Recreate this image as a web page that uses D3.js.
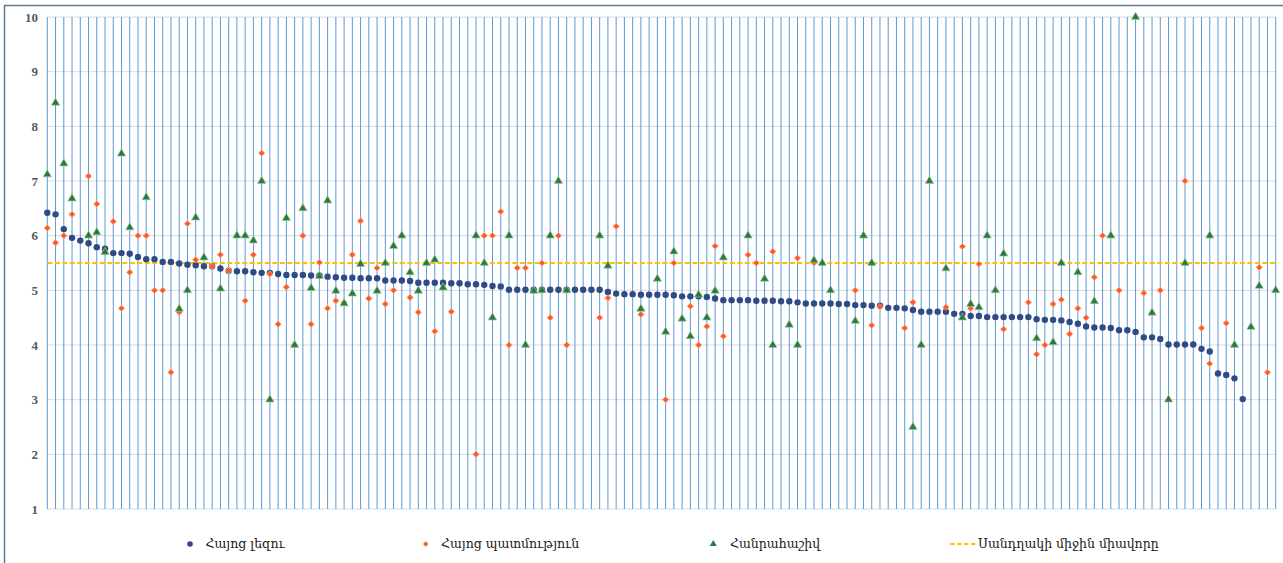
<!DOCTYPE html>
<html>
<head>
<meta charset="utf-8">
<script src="https://cdn.jsdelivr.net/npm/d3@7"></script>
<style>
  html, body { margin: 0; padding: 0; background: #fff; }
  svg { display: block; }
</style>
</head>
<body>
<svg id="chart" width="1283" height="563"></svg>
<script>
// ---- DATA ----
const categories = d3.range(1, 151);

const armenianLanguage = [
  6.42, 6.39, 6.12, 5.96, 5.91, 5.86, 5.79, 5.76, 5.68, 5.68,
  5.67, 5.61, 5.57, 5.57, 5.52, 5.52, 5.49, 5.47, 5.46, 5.44,
  5.44, 5.40, 5.36, 5.35, 5.35, 5.33, 5.32, 5.32, 5.30, 5.28,
  5.28, 5.28, 5.27, 5.27, 5.25, 5.24, 5.23, 5.23, 5.22, 5.22,
  5.22, 5.18, 5.18, 5.18, 5.17, 5.14, 5.14, 5.14, 5.14, 5.13,
  5.13, 5.11, 5.11, 5.10, 5.08, 5.07, 5.01, 5.01, 5.01, 5.01,
  5.01, 5.01, 5.01, 5.01, 5.01, 5.01, 5.01, 5.01, 4.97, 4.94,
  4.93, 4.93, 4.92, 4.92, 4.92, 4.92, 4.91, 4.89, 4.89, 4.89,
  4.88, 4.85, 4.82, 4.82, 4.82, 4.82, 4.81, 4.81, 4.81, 4.80,
  4.80, 4.78, 4.76, 4.76, 4.76, 4.76, 4.75, 4.75, 4.73, 4.73,
  4.72, 4.72, 4.68, 4.68, 4.67, 4.64, 4.61, 4.61, 4.61, 4.61,
  4.57, 4.57, 4.53, 4.53, 4.51, 4.51, 4.51, 4.51, 4.51, 4.51,
  4.47, 4.46, 4.46, 4.45, 4.42, 4.39, 4.34, 4.32, 4.32, 4.31,
  4.27, 4.27, 4.24, 4.14, 4.14, 4.11, 4.01, 4.01, 4.01, 4.01,
  3.93, 3.88, 3.48, 3.45, 3.39, 3.01, null, null, null, null
];

const armenianHistory = [
  6.14, 5.87, 6.00, 6.39, null, 7.09, 6.58, 5.70, 6.26, 4.67,
  5.33, 6.00, 6.00, 5.00, 5.00, 3.50, 4.60, 6.22, 5.56, null,
  5.44, 5.65, 5.36, null, 4.81, 5.65, 7.51, 5.30, 4.38, 5.06,
  4.00, 6.00, 4.38, 5.51, 4.67, 4.81, 4.78, 5.65, 6.27, 4.85,
  5.41, 4.75, 5.00, 6.00, 4.87, 4.60, null, 4.25, null, 4.61,
  null, null, 2.00, 6.00, 6.00, 6.44, 4.00, 5.41, 5.41, null,
  5.50, 4.50, 6.00, 4.00, null, null, null, 4.50, 4.86, 6.17,
  null, null, 4.56, null, null, 3.00, 5.50, null, 4.71, 4.00,
  4.34, 5.81, 4.16, null, null, 5.65, 5.50, null, 5.71, null,
  null, 5.59, null, 5.50, null, null, null, null, 5.00, null,
  4.36, 4.70, null, null, 4.31, 4.78, null, null, null, 4.69,
  null, 5.80, 4.67, 5.48, null, null, 4.29, null, null, 4.78,
  3.83, 4.00, 4.75, 4.83, 4.20, 4.67, 4.50, 5.24, 6.00, null,
  5.00, null, null, 4.95, null, 5.00, null, null, 7.00, null,
  4.31, 3.66, null, 4.40, null, null, null, 5.42, 3.50, null
];

const algebra = [
  7.12, 8.43, 7.32, 6.68, null, 6.00, 6.06, 5.70, null, 7.50,
  6.15, null, 6.70, null, null, null, 4.66, 5.00, 6.33, 5.60,
  null, 5.03, null, 6.00, 6.00, 5.91, 7.00, 3.00, null, 6.32,
  4.00, 6.50, 5.04, 5.26, 6.64, 4.99, 4.76, 4.94, 5.48, null,
  4.99, 5.50, 5.81, 6.00, 5.33, 4.99, 5.50, 5.56, 5.05, null,
  null, null, 6.00, 5.50, 4.50, null, 6.00, null, 4.00, 4.99,
  5.00, 6.00, 7.00, 5.00, null, null, null, 6.00, 5.45, null,
  null, null, 4.66, null, 5.21, 4.24, 5.71, 4.48, 4.16, 4.92,
  4.50, 4.99, 5.60, null, null, 6.00, null, 5.21, 4.00, null,
  4.37, 4.00, null, 5.55, 5.50, 5.00, null, null, 4.44, 6.00,
  5.50, null, null, null, null, 2.50, 4.00, 7.00, null, 5.40,
  null, 4.50, 4.75, 4.69, 6.00, 5.00, 5.67, null, null, null,
  4.12, null, 4.05, 5.50, null, 5.33, null, 4.80, null, 6.00,
  null, null, 10.00, null, 4.59, null, 3.00, null, 5.50, null,
  null, 6.00, null, null, 4.00, null, 4.33, 5.08, null, 5.00
];

const scaleAverage = 5.5;
const yTicks = [1, 2, 3, 4, 5, 6, 7, 8, 9, 10];

const seriesNames = ["Հայոց լեզու", "Հայոց պատմություն", "Հանրահաշիվ", "Սանդղակի միջին միավորը"];

// ---- DRAW ----
const svg = d3.select("#chart");
const W = 1283, H = 563;

const x = d3.scalePoint().domain(categories).range([47.3, 1275.7]);
const y = d3.scaleLinear().domain([1, 10]).range([509, 17]);

// outer frame (top and left)
svg.append("line").attr("x1", 4).attr("x2", W).attr("y1", 5.5).attr("y2", 5.5)
  .attr("stroke", "#5d7a92").attr("stroke-width", 1.5);
svg.append("line").attr("x1", 4.5).attr("x2", 4.5).attr("y1", 5).attr("y2", H)
  .attr("stroke", "#5d7a92").attr("stroke-width", 1.5);

// horizontal gridlines
svg.append("g").selectAll("line").data(yTicks).join("line")
  .attr("x1", x.range()[0]).attr("x2", x.range()[1])
  .attr("y1", d => y(d)).attr("y2", d => y(d))
  .attr("stroke", "#d9d9d9").attr("stroke-width", 1);

// vertical lines at each category
svg.append("g").selectAll("line").data(categories).join("line")
  .attr("x1", d => x(d)).attr("x2", d => x(d))
  .attr("y1", y(10)).attr("y2", y(1))
  .attr("stroke", "#5b9bd5").attr("stroke-width", 1);

// y axis labels
const yAxis = d3.axisLeft(y).tickValues(yTicks).tickSize(0).tickPadding(0);
const gy = svg.append("g").attr("transform", "translate(38,0)").call(yAxis);
gy.select(".domain").remove();
gy.selectAll("text")
  .attr("font-family", "'Liberation Serif', 'DejaVu Serif', serif")
  .attr("font-size", 13)
  .attr("font-weight", "bold")
  .attr("fill", "#595959");

// average line
svg.append("line")
  .attr("x1", x.range()[0]).attr("x2", x.range()[1])
  .attr("y1", y(scaleAverage)).attr("y2", y(scaleAverage))
  .attr("stroke", "#ffc000").attr("stroke-width", 1.8)
  .attr("stroke-dasharray", "5,2.5");

const idx = categories.map((c, i) => i);

// blue circles
svg.append("g").selectAll("circle")
  .data(idx.filter(i => armenianLanguage[i] != null))
  .join("circle")
  .attr("cx", i => x(categories[i]))
  .attr("cy", i => y(armenianLanguage[i]))
  .attr("r", 3.2)
  .attr("fill", "#2f4b85");

// orange diamonds
const diamond = d3.symbol().type(d3.symbolDiamond2).size(26);
svg.append("g").selectAll("path")
  .data(idx.filter(i => armenianHistory[i] != null))
  .join("path")
  .attr("d", diamond)
  .attr("transform", i => `translate(${x(categories[i])},${y(armenianHistory[i])})`)
  .attr("fill", "#fb5b28")
  .attr("stroke", "#ffb08a").attr("stroke-width", 0.8);

// green triangles
const tri = d3.symbol().type(d3.symbolTriangle).size(30);
svg.append("g").selectAll("path")
  .data(idx.filter(i => algebra[i] != null))
  .join("path")
  .attr("d", tri)
  .attr("transform", i => `translate(${x(categories[i])},${y(algebra[i])})`)
  .attr("fill", "#2a7a3a")
  .attr("stroke", "#9cc8a4").attr("stroke-width", 0.7);

// legend
const legY = 544;
const leg = svg.append("g")
  .attr("font-family", "'DejaVu Serif', serif")
  .attr("font-size", 12.5)
  .attr("fill", "#1a1a1a");

leg.append("circle").attr("cx", 190).attr("cy", legY).attr("r", 2.8).attr("fill", "#2f4b85");
leg.append("text").attr("x", 205.5).attr("y", legY).attr("dy", "0.35em").text(seriesNames[0]);

leg.append("path").attr("d", d3.symbol().type(d3.symbolDiamond2).size(18))
  .attr("transform", `translate(425.7,${legY})`).attr("fill", "#fb5b28");
leg.append("text").attr("x", 441).attr("y", legY).attr("dy", "0.35em").text(seriesNames[1]);

leg.append("path").attr("d", d3.symbol().type(d3.symbolTriangle).size(22))
  .attr("transform", `translate(713.3,${legY})`).attr("fill", "#2a7a3a");
leg.append("text").attr("x", 730).attr("y", legY).attr("dy", "0.35em").text(seriesNames[2]);

leg.append("line").attr("x1", 950).attr("x2", 976).attr("y1", legY).attr("y2", legY)
  .attr("stroke", "#ffc000").attr("stroke-width", 1.8).attr("stroke-dasharray", "4.5,2.5");
leg.append("text").attr("x", 978).attr("y", legY).attr("dy", "0.35em").text(seriesNames[3]);
</script>
</body>
</html>
